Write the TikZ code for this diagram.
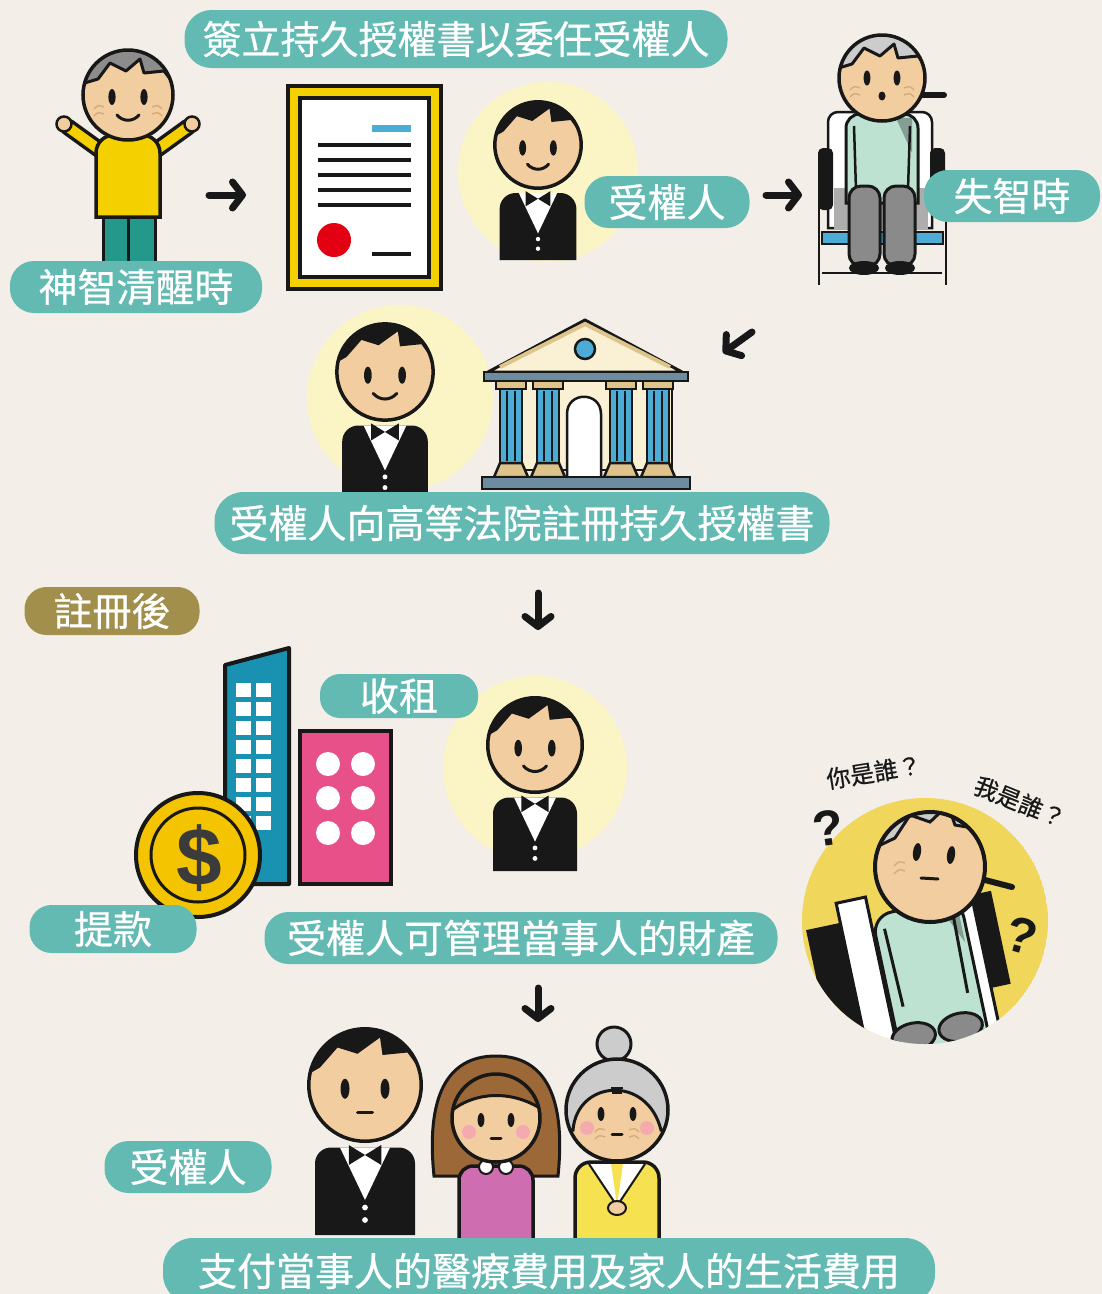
\documentclass[tikz,border=0pt]{standalone}
\usepackage{fontspec}
\usepackage{tikz}
\usetikzlibrary{arrows.meta,positioning,calc}
\newfontfamily\cjk{Noto Sans CJK TC}[FakeBold=0.6]
\newfontfamily\latin{Liberation Sans}
\definecolor{PaperBg}{RGB}{243,239,232}
\definecolor{TagTeal}{RGB}{98,186,179}
\definecolor{TagOlive}{RGB}{163,143,76}
\definecolor{Halo}{RGB}{251,244,196}
\definecolor{Skin}{RGB}{242,205,160}
\definecolor{Wrinkle}{RGB}{214,170,120}
\definecolor{Ink}{RGB}{24,24,24}
\definecolor{ShirtYellow}{RGB}{245,208,0}
\definecolor{PantsGreen}{RGB}{36,152,138}
\definecolor{HairGrey}{RGB}{140,140,140}
\definecolor{HairLight}{RGB}{204,204,204}
\definecolor{GownMint}{RGB}{190,226,210}
\definecolor{LegGrey}{RGB}{138,138,138}
\definecolor{SkyBlue}{RGB}{76,172,214}
\definecolor{CourtCream}{RGB}{250,240,212}
\definecolor{CourtTan}{RGB}{222,196,138}
\definecolor{CourtSlate}{RGB}{110,140,160}
\definecolor{TowerBlue}{RGB}{24,146,176}
\definecolor{FlatPink}{RGB}{232,80,138}
\definecolor{CoinGold}{RGB}{244,196,0}
\definecolor{SealRed}{RGB}{226,0,18}
\definecolor{DizzyYellow}{RGB}{241,214,92}
\definecolor{HairBrown}{RGB}{156,104,56}
\definecolor{DressPink}{RGB}{206,110,176}
\definecolor{RobeYellow}{RGB}{246,226,80}
\definecolor{Blush}{RGB}{244,170,175}

\tikzset{
  % smiling attorney in a suit, origin at the head centre
  agent/.pic={
    \fill[Ink] (-40,120) [rounded corners=16pt] -- (-40,50) -- (40,50) [sharp corners] -- (40,120) -- cycle;
    \fill[white] (-20,50) -- (20,50) -- (0,92) -- cycle;
    \fill[Ink] (-13,48) -- (0,56) -- (13,48) -- (13,64) -- (0,56) -- (-13,64) -- cycle;
    \fill[white] (0,98) circle (2.3) (0,108) circle (2.3);
    \fill[Skin] (0,0) circle (45);
    \begin{scope}
      \clip (0,0) circle (45);
      \fill[Ink] (-50,-50) -- (-50,-6) -- (-36,-14) -- (-22,-30) -- (-6,-25) -- (12,-38) -- (14,-24) -- (34,-26) -- (50,-4) -- (50,-50) -- cycle;
    \end{scope}
    \draw[Ink,line width=3.5pt] (0,0) circle (45);
    \fill[Ink] (-16,3) ellipse (3.6 and 8) (16,3) ellipse (3.6 and 8);
  },
  smile/.pic={
    \draw[Ink,line width=3pt,line cap=round] (-11,20) .. controls (-5,27) and (5,27) .. (11,20);
  },
  flat mouth/.pic={
    \draw[Ink,line width=3pt,line cap=round] (-6,22) -- (6,22);
  },
  % old man standing with raised arms
  elder/.pic={
    \draw[Ink,line width=17pt,line cap=round] (-24,58) -- (-60,32) (24,58) -- (60,32);
    \draw[ShirtYellow,line width=10pt,line cap=round] (-24,58) -- (-60,32) (24,58) -- (60,32);
    \filldraw[fill=Skin,draw=Ink,line width=2.5pt] (-64,29) circle (7.5) (64,29) circle (7.5);
    \filldraw[fill=PantsGreen,draw=Ink,line width=3pt] (-25,118) rectangle (0,172) (0,118) rectangle (27,172);
    \filldraw[fill=ShirtYellow,draw=Ink,line width=3.5pt] (-32,122) [rounded corners=18pt] -- (-32,40) -- (32,40) [sharp corners] -- (32,122) -- cycle;
    \fill[Skin] (0,0) circle (45);
    \begin{scope}
      \clip (0,0) circle (45);
      \fill[HairGrey] (-50,-50) -- (-50,-10) -- (-30,-16) -- (-18,-32) -- (-2,-24) -- (12,-36) -- (16,-22) -- (36,-24) -- (50,-6) -- (50,-50) -- cycle;
      \draw[Ink,line width=3pt,line join=round] (-50,-10) -- (-30,-16) -- (-18,-32) -- (-2,-24) -- (12,-36) -- (16,-22) -- (36,-24) -- (50,-6);
    \end{scope}
    \draw[Ink,line width=3.5pt] (0,0) circle (45);
    \fill[Ink] (-16,2) ellipse (3.6 and 8) (16,2) ellipse (3.6 and 8);
    \draw[Ink,line width=3pt,line cap=round] (-11,20) .. controls (-5,27) and (5,27) .. (11,20);
    \draw[Wrinkle,line width=1.3pt] (-34,14) .. controls (-30,10) .. (-24,12) (-34,21) .. controls (-30,17) .. (-24,19)
      (34,14) .. controls (30,10) .. (24,12) (34,21) .. controls (30,17) .. (24,19);
  },
  % old man sitting in a wheelchair
  patient/.pic={
    \draw[Ink,line width=6pt,line cap=round] (40,17) -- (62,17);
    \draw[Ink,line width=2.5pt] (-63,92) -- (-63,207) (64,92) -- (64,207) (-60,195) -- (60,195);
    \filldraw[fill=white,draw=Ink,line width=2.5pt] (-54,150) [rounded corners=10pt] -- (-54,34) -- (50,34) [sharp corners] -- (50,150) -- cycle;
    \fill[LegGrey!70] (-48,110) rectangle (46,152);
    \fill[Ink,rounded corners=5pt] (-64,70) rectangle (-49,132) (48,70) rectangle (63,132);
    \filldraw[fill=SkyBlue,draw=Ink,line width=2.5pt] (-60,154) rectangle (61,166);
    \filldraw[fill=GownMint,draw=Ink,line width=3pt] (-36,125) [rounded corners=14pt] -- (-36,36) -- (36,36) [sharp corners] -- (36,125) -- cycle;
    \fill[GownMint!70!black] (14,40) -- (30,40) -- (30,75) -- cycle;
    \draw[Ink,line width=2.5pt] (-28,48) -- (-26,112) (28,48) -- (26,112);
    \filldraw[fill=LegGrey,draw=Ink,line width=3pt,rounded corners=12pt] (-33,108) rectangle (-2,188) (2,108) rectangle (33,188);
    \fill[Ink] (-18,190) ellipse (15 and 7) (18,190) ellipse (15 and 7);
    \fill[Skin] (0,0) circle (43);
    \begin{scope}
      \clip (0,0) circle (43);
      \fill[HairLight] (-50,-50) -- (-50,-8) -- (-30,-14) -- (-18,-30) -- (-2,-22) -- (12,-34) -- (16,-20) -- (36,-22) -- (50,-4) -- (50,-50) -- cycle;
      \draw[Ink,line width=3pt,line join=round] (-50,-8) -- (-30,-14) -- (-18,-30) -- (-2,-22) -- (12,-34) -- (16,-20) -- (36,-22) -- (50,-4);
    \end{scope}
    \draw[Ink,line width=3.5pt] (0,0) circle (43);
    \fill[Ink] (-15,0) ellipse (3.4 and 7.5) (15,0) ellipse (3.4 and 7.5);
    \fill[Ink] (0,18) ellipse (3.5 and 4.5);
    \draw[Wrinkle,line width=1.3pt] (-32,12) .. controls (-28,8) .. (-22,10) (-32,19) .. controls (-28,15) .. (-22,17)
      (32,12) .. controls (28,8) .. (22,10) (32,19) .. controls (28,15) .. (22,17);
  },
  % young woman
  woman/.pic={
    \filldraw[fill=HairBrown,draw=Ink,line width=3pt] (-62,58) .. controls (-70,-20) and (-50,-62) .. (0,-62) .. controls (50,-62) and (70,-20) .. (62,58) -- cycle;
    \filldraw[fill=DressPink,draw=Ink,line width=3.5pt] (-37,125) [rounded corners=14pt] -- (-37,48) -- (37,48) [sharp corners] -- (37,125) -- cycle;
    \filldraw[fill=white,draw=Ink,line width=2pt] (-10,49) circle (7) (10,49) circle (7);
    \fill[Skin] (0,0) circle (44);
    \begin{scope}
      \clip (0,0) circle (44);
      \filldraw[fill=HairBrown,draw=Ink,line width=3pt] (-50,-50) -- (-50,-2) .. controls (-32,-22) and (10,-34) .. (50,-6) -- (50,-50) -- cycle;
    \end{scope}
    \draw[Ink,line width=3.5pt] (0,0) circle (44);
    \fill[Blush] (-27,14) circle (7) (27,14) circle (7);
    \fill[Ink] (-15,2) ellipse (3.4 and 7) (15,2) ellipse (3.4 and 7);
    \draw[Ink,line width=3pt,line cap=round] (-5,20) -- (5,20);
  },
  % grandmother with a bun
  granny/.pic={
    \filldraw[fill=HairLight,draw=Ink,line width=3pt] (-3,-66) circle (17);
    \filldraw[fill=RobeYellow,draw=Ink,line width=3.5pt] (-42,130) [rounded corners=16pt] -- (-42,52) -- (42,52) [sharp corners] -- (42,130) -- cycle;
    \fill[white] (-28,54) -- (-6,54) -- (0,96) -- cycle (28,54) -- (6,54) -- (0,96) -- cycle;
    \draw[Ink,line width=2pt] (-28,54) -- (0,96) -- (28,54);
    \filldraw[fill=Skin,draw=Ink,line width=2pt] (0,98) ellipse (9 and 7);
    \fill[Skin] (0,0) circle (51);
    \begin{scope}
      \clip (0,0) circle (51);
      \filldraw[fill=HairLight,draw=Ink,line width=3pt] (-60,-60) -- (-60,20) -- (-44,20) .. controls (-40,-30) and (30,-36) .. (44,20) -- (60,20) -- (60,-60) -- cycle;
    \end{scope}
    \draw[Ink,line width=3.5pt] (0,0) circle (51);
    \draw[Ink,line width=1.5pt] (-6,-22) -- (6,-22) (-5,-17) -- (5,-17);
    \fill[Blush] (-30,18) circle (7) (30,18) circle (7);
    \fill[Ink] (-16,4) ellipse (3.4 and 7) (16,4) ellipse (3.4 and 7);
    \draw[Ink,line width=3pt,line cap=round] (-5,24) -- (5,24);
    \draw[Wrinkle,line width=1.3pt] (-22,22) .. controls (-18,18) .. (-12,20) (-22,29) .. controls (-18,25) .. (-12,27)
      (22,22) .. controls (18,18) .. (12,20) (22,29) .. controls (18,25) .. (12,27);
  },
}

\begin{document}
\begin{tikzpicture}[
  x=1pt,y=-1pt,
  tag/.style={fill=TagTeal,text=white,rounded corners=24pt,inner sep=0pt,
              minimum height=52pt,font=\cjk\fontsize{39}{40}\selectfont},
  flow/.style={-{Straight Barb[length=10pt,width=26pt,round]},draw=Ink,line width=7pt,line cap=round},
  halo/.style={fill=Halo}
]
\useasboundingbox (0,0) rectangle (1102,1294);
\clip (0,0) rectangle (1102,1294);
\fill[PaperBg] (0,0) rectangle (1102,1294);

% first row: signing the enduring power of attorney
\pic at (128,95) {elder};
\filldraw[fill=ShirtYellow,draw=Ink,line width=4pt] (288,86) rectangle (441,289);
\filldraw[fill=white,draw=Ink,line width=3.5pt] (300,98) rectangle (429,277);
\fill[SkyBlue] (372,125) rectangle (411,132);
\foreach \ly in {143,158,173,188,203}
  \fill[Ink] (318,\ly) rectangle (411,{\ly+4});
\fill[SealRed] (334,240) circle (17);
\fill[Ink] (372,252) rectangle (411,256);
\fill[halo] (548,172) circle (90);
\pic[scale=0.96] at (538,145) {agent};
\pic[scale=0.96] at (538,145) {smile};
\pic at (882,78) {patient};

% second row: registering at the High Court
\fill[halo] (400,398) circle (93);
\pic[scale=1.07] at (385,372) {agent};
\pic[scale=1.07] at (385,372) {smile};
\filldraw[fill=CourtCream,draw=Ink,line width=3pt,line join=round] (488,372) -- (585,320) -- (682,372) -- cycle;
\draw[CourtTan,line width=4pt] (500,367) -- (585,324) -- (670,367);
\filldraw[fill=SkyBlue,draw=Ink,line width=2.5pt] (585,349) circle (10);
\filldraw[fill=CourtSlate,draw=Ink,line width=2.5pt] (484,372) rectangle (688,381);
\filldraw[fill=CourtCream,draw=Ink,line width=2.5pt] (500,381) rectangle (672,470);
\foreach \cx in {511,548,621,658} {
  \filldraw[fill=CourtTan,draw=Ink,line width=2.5pt] ({\cx-15},381) rectangle ({\cx+15},389);
  \filldraw[fill=SkyBlue,draw=Ink,line width=2.5pt] ({\cx-11},389) rectangle ({\cx+11},463);
  \draw[Ink,line width=1.2pt] ({\cx-4},391) -- ({\cx-4},461) ({\cx+4},391) -- ({\cx+4},461);
  \filldraw[fill=CourtTan,draw=Ink,line width=2.5pt] ({\cx-11},463) -- ({\cx+11},463) -- ({\cx+17},477) -- ({\cx-17},477) -- cycle;
}
\filldraw[fill=white,draw=Ink,line width=2.5pt] (567,477) -- (567,414) .. controls (567,391) and (601,391) .. (601,414) -- (601,477);
\filldraw[fill=CourtSlate,draw=Ink,line width=2.5pt] (482,477) rectangle (690,489);

% third row: managing the property
\filldraw[fill=TowerBlue,draw=Ink,line width=4pt,line join=round] (225,665) -- (289,648) -- (289,884) -- (225,884) -- cycle;
\foreach \wy in {0,...,7} {
  \fill[white] (236,{683+\wy*19}) rectangle (251,{697+\wy*19});
  \fill[white] (256,{683+\wy*19}) rectangle (271,{697+\wy*19});
}
\filldraw[fill=FlatPink,draw=Ink,line width=4pt] (300,731) rectangle (391,884);
\foreach \px in {328,363}
  \foreach \py in {764,798,833}
    \fill[white] (\px,\py) circle (12);
\filldraw[fill=CoinGold,draw=Ink,line width=4pt] (198,855) circle (62);
\draw[Ink,line width=3pt] (198,855) circle (47);
\node[font=\latin\bfseries\fontsize{82}{82}\selectfont,text=Ink!85] (dollar) at (199,858) {\$};
\fill[halo] (535,768) circle (92);
\pic[scale=1.05] at (535,745) {agent};
\pic[scale=1.05] at (535,745) {smile};

% the confused patient
\begin{scope}
  \clip (925,921) circle (123);
  \fill[DizzyYellow] (925,921) circle (123);
  \begin{scope}[rotate around={12:(930,960)}]
    \fill[Ink] (815,905) rectangle (853,1070);
    \filldraw[fill=white,draw=Ink,line width=3pt] (850,885) rectangle (880,1070);
    \filldraw[fill=white,draw=Ink,line width=3pt] (968,885) rectangle (984,1070);
    \fill[Ink] (984,905) rectangle (1004,1000);
    \filldraw[fill=GownMint,draw=Ink,line width=3pt] (882,1070) [rounded corners=20pt] -- (882,905) -- (972,905) [sharp corners] -- (972,1070) -- cycle;
    \fill[GownMint!70!black] (950,910) -- (968,910) -- (968,950) -- cycle;
    \draw[Ink,line width=3pt] (892,920) -- (894,1000) (962,920) -- (960,1000);
    \filldraw[fill=LegGrey,draw=Ink,line width=3pt] (898,1032) ellipse (22 and 14) (946,1032) ellipse (22 and 14);
  \end{scope}
  \draw[Ink,line width=6pt,line cap=round] (985,880) -- (1012,887);
  \fill[Skin] (930,867) circle (55);
  \begin{scope}
    \clip (930,867) circle (55);
    \filldraw[fill=HairLight,draw=Ink,line width=3pt] (860,800) -- (870,850) -- (895,838) -- (910,815) -- (930,822) -- (948,805) -- (955,825) -- (985,830) -- (995,800) -- cycle;
  \end{scope}
  \draw[Ink,line width=4pt] (930,867) circle (55);
  \fill[Ink,rotate around={-8:(917,852)}] (917,852) ellipse (4 and 9);
  \fill[Ink,rotate around={-8:(951,855)}] (951,855) ellipse (4 and 9);
  \draw[Ink,line width=3pt,line cap=round] (921,878) -- (938,879);
  \draw[Wrinkle,line width=1.3pt] (894,866) .. controls (899,861) .. (905,863) (894,874) .. controls (899,869) .. (905,871);
\end{scope}
\node[font=\latin\bfseries\fontsize{50}{50}\selectfont,text=Ink,rotate=8] (qa) at (828,828) {?};
\node[font=\latin\bfseries\fontsize{50}{50}\selectfont,text=Ink,rotate=-15] (qb) at (1022,936) {?};
\node[font=\cjk\fontsize{24}{24}\selectfont,text=Ink,rotate=9,inner sep=1pt] (who1) at (874,772) {你是誰？};
\node[font=\cjk\fontsize{24}{24}\selectfont,text=Ink,rotate=-22,inner sep=1pt] (who2) at (1020,802) {我是誰？};

% fourth row: paying the expenses
\pic[scale=1.25] at (365,1085) {agent};
\pic[scale=1.25] at (365,1085) {flat mouth};
\pic at (496,1118) {woman};
\pic at (617,1110) {granny};

% connectors
\coordinate (a1) at (209,195); \coordinate (b1) at (246,195);
\coordinate (a2) at (766,195); \coordinate (b2) at (802,195);
\coordinate (a3) at (752,332); \coordinate (b3) at (723,353);
\coordinate (a4) at (538,593); \coordinate (b4) at (538,630);
\coordinate (a5) at (538,988); \coordinate (b5) at (538,1022);
\draw[flow] (a1) -- (b1);
\draw[flow] (a2) -- (b2);
\draw[flow] (a3) -- (b3);
\draw[flow] (a4) -- (b4);
\draw[flow] (a5) -- (b5);

% labels
\node[tag,minimum width=543pt,minimum height=58pt,rounded corners=27pt] (sign) at (456,39) {簽立持久授權書以委任受權人};
\node[tag,minimum width=252pt] (lucid) at (136,287) {神智清醒時};
\node[tag,minimum width=165pt] (agent1) at (667,202) {受權人};
\node[tag,minimum width=176pt] (dementia) at (1012,196) {失智時};
\node[tag,minimum width=615pt,minimum height=62pt,rounded corners=29pt] (register) at (522,523) {受權人向高等法院註冊持久授權書};
\node[tag,fill=TagOlive,minimum width=175pt,minimum height=48pt,rounded corners=22pt] (after) at (112,611) {註冊後};
\node[tag,minimum width=158pt,minimum height=44pt,rounded corners=20pt] (rent) at (399,696) {收租};
\node[tag,minimum width=167pt,minimum height=48pt,rounded corners=22pt] (withdraw) at (113,929) {提款};
\node[tag,minimum width=513pt] (manage) at (521,938) {受權人可管理當事人的財產};
\node[tag,minimum width=167pt] (agent2) at (188,1167) {受權人};
\node[tag,minimum width=772pt,minimum height=66pt,rounded corners=30pt] (pay) at (549,1271) {支付當事人的醫療費用及家人的生活費用};
\end{tikzpicture}
\end{document}
